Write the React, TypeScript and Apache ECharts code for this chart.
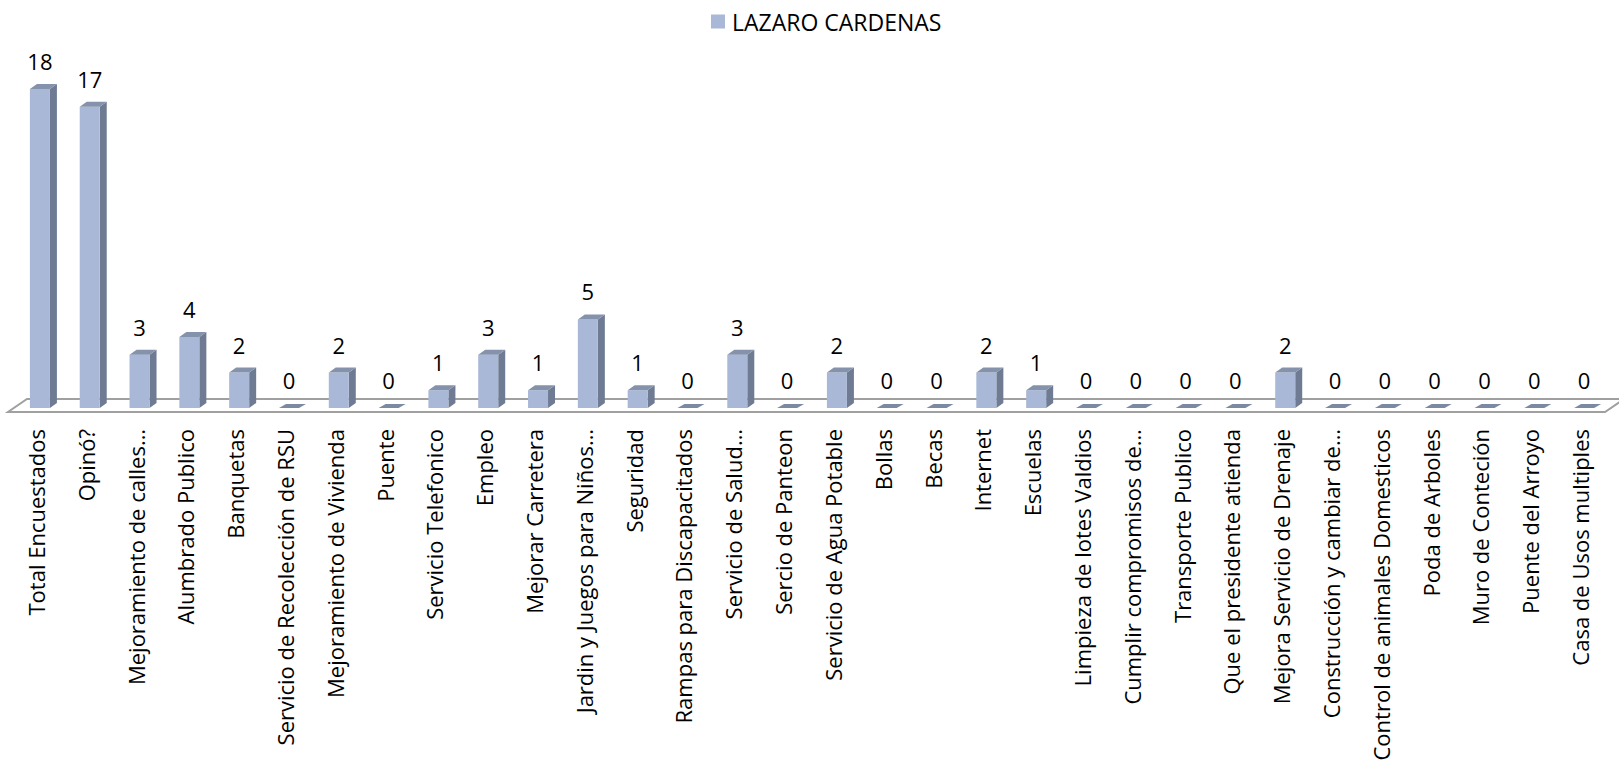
import React, { useEffect, useRef } from "react";
import * as echarts from "echarts";

const seriesName = "LAZARO CARDENAS";

const categories = [
  "Total Encuestados",
  "Opinó?",
  "Mejoramiento de calles…",
  "Alumbrado Publico",
  "Banquetas",
  "Servicio de Recolección de RSU",
  "Mejoramiento de Vivienda",
  "Puente",
  "Servicio Telefonico",
  "Empleo",
  "Mejorar Carretera",
  "Jardin y Juegos para Niños…",
  "Seguridad",
  "Rampas para Discapacitados",
  "Servicio de Salud…",
  "Sercio de Panteon",
  "Servicio de Agua Potable",
  "Bollas",
  "Becas",
  "Internet",
  "Escuelas",
  "Limpieza de lotes Valdios",
  "Cumplir compromisos de…",
  "Transporte Publico",
  "Que el presidente atienda",
  "Mejora Servicio de Drenaje",
  "Construcción y cambiar de…",
  "Control de animales Domesticos",
  "Poda de Arboles",
  "Muro de Conteción",
  "Puente del Arroyo",
  "Casa de Usos multiples",
];

const values = [
  18, 17, 3, 4, 2, 0, 2, 0, 1, 3, 1, 5, 1, 0, 3, 0, 2, 0, 0, 2, 1, 0, 0, 0, 0, 2,
  0, 0, 0, 0, 0, 0,
];

const FRONT = "#A9B8D7";
const SIDE = "#6E7B93";
const TOP = "#8592AC";
const FONT = "Open Sans";

export default function App() {
  const ref = useRef<HTMLDivElement>(null);

  useEffect(() => {
    if (!ref.current) return;
    const chart = echarts.init(ref.current, null, { renderer: "svg" });

    const barRender = (params: any, api: any) => {
      const i = api.value(0);
      const v = api.value(1);
      const top = api.coord([i, v]);
      const base = api.coord([i, 0]);
      const w = 20;
      const dx = 7;
      const dy = 5;
      const x0 = top[0] - 6;
      const yT = top[1];
      const yB = base[1];
      const children: any[] = [];
      if (v > 0) {
        children.push({
          type: "polygon",
          shape: { points: [[x0 + w, yT], [x0 + w + dx, yT - dy], [x0 + w + dx, yB - dy], [x0 + w, yB]] },
          style: { fill: SIDE },
        });
        children.push({
          type: "rect",
          shape: { x: x0, y: yT, width: w, height: yB - yT },
          style: { fill: FRONT },
        });
        children.push({
          type: "polygon",
          shape: { points: [[x0, yT], [x0 + dx, yT - dy], [x0 + w + dx, yT - dy], [x0 + w, yT]] },
          style: { fill: TOP },
        });
      } else {
        children.push({
          type: "polygon",
          shape: { points: [[x0, yB], [x0 + dx, yB - 4], [x0 + w + dx, yB - 4], [x0 + w, yB]] },
          style: { fill: "#7C89A3" },
        });
      }
      children.push({
        type: "text",
        style: {
          text: String(v),
          x: x0 + w / 2,
          y: yT - 28,
          align: "center",
          verticalAlign: "middle",
          fontSize: 22,
          fontFamily: FONT,
          fill: "#000",
        },
      });
      return { type: "group", children };
    };

    const floorRender = (params: any) => {
      const cs = params.coordSys;
      const by = cs.y + cs.height;
      return {
        type: "polygon",
        shape: {
          points: [
            [cs.x - 3, by + 4],
            [cs.x + cs.width, by + 4],
            [cs.x + cs.width + 19, by - 9],
            [cs.x + 16, by - 9],
          ],
        },
        style: { fill: "#fff", stroke: "#A0A0A0", lineWidth: 2 },
      };
    };

    chart.setOption({
      animation: false,
      legend: {
        data: [seriesName],
        left: 706,
        top: 5,
        itemWidth: 14,
        itemHeight: 14,
        icon: "rect",
        textStyle: { fontSize: 23, fontFamily: FONT, color: "#000", padding: [0, 0, 0, 2] },
      },
      grid: { left: 11, right: 14, top: 89, bottom: 370, containLabel: false },
      xAxis: {
        type: "category",
        data: categories,
        axisLine: { show: false },
        axisTick: { show: false },
        axisLabel: {
          interval: 0,
          rotate: 90,
          margin: 21,
          fontSize: 22,
          fontFamily: FONT,
          color: "#000",
        },
      },
      yAxis: {
        type: "value",
        min: 0,
        max: 18,
        show: false,
        splitLine: { show: false },
      },
      series: [
        {
          name: "floor",
          type: "custom",
          renderItem: floorRender,
          data: [[0, 0]],
          encode: { x: 0, y: 1 },
          clip: false,
          silent: true,
          z: 1,
        },
        {
          name: seriesName,
          type: "custom",
          renderItem: barRender,
          data: values.map((v, i) => [i, v]),
          encode: { x: 0, y: 1 },
          itemStyle: { color: FRONT },
          clip: false,
          z: 2,
        },
      ],
    });

    return () => chart.dispose();
  }, []);

  return (
    <div
      ref={ref}
      style={{ position: "absolute", left: 0, top: 0, width: 1619, height: 778, background: "#fff" }}
    />
  );
}
